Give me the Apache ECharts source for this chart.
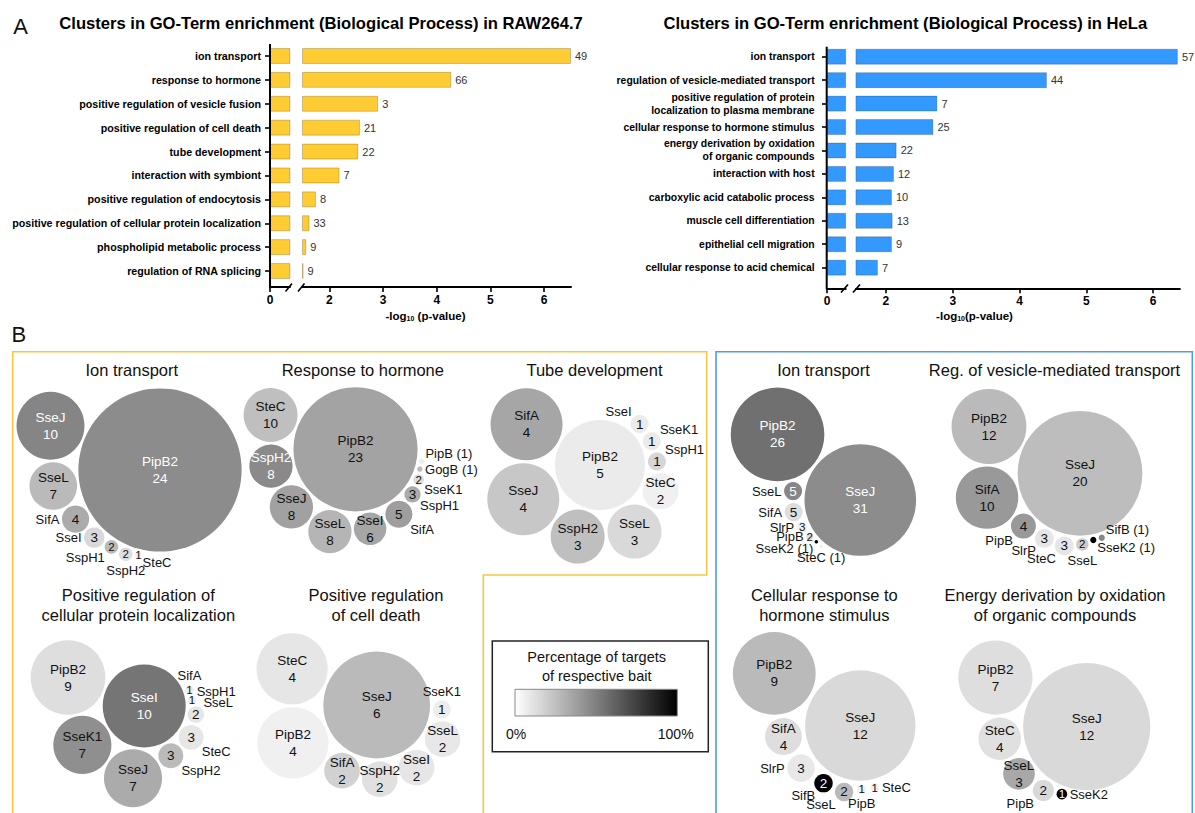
<!DOCTYPE html>
<html>
<head>
<meta charset="utf-8">
<title>GO-Term clusters</title>
<script src="https://cdn.jsdelivr.net/npm/echarts@6/dist/echarts.min.js"></script>
<style>
  html, body { margin: 0; padding: 0; background: #ffffff; }
  #chart { width: 1195px; height: 813px; }
</style>
</head>
<body>
<div id="chart"></div>
<script>
// ---------- Panel A: GO-term enrichment ----------
const rawTerms = [
  'ion transport', 'response to hormone', 'positive regulation of vesicle fusion',
  'positive regulation of cell death', 'tube development', 'interaction with symbiont',
  'positive regulation of endocytosis', 'positive regulation of cellular protein localization',
  'phospholipid metabolic process', 'regulation of RNA splicing'
];
const rawLogP = [6.5, 4.27, 2.91, 2.57, 2.54, 2.19, 1.75, 1.63, 1.57, 1.52];
const rawGenes = [49, 66, 3, 21, 22, 7, 8, 33, 9, 9];

const helaTerms = [
  'ion transport', 'regulation of vesicle-mediated transport',
  'positive regulation of protein\nlocalization to plasma membrane',
  'cellular response to hormone stimulus',
  'energy derivation by oxidation\nof organic compounds',
  'interaction with host', 'carboxylic acid catabolic process',
  'muscle cell differentiation', 'epithelial cell migration', 'cellular response to acid chemical'
];
const helaLogP = [6.37, 4.41, 2.77, 2.71, 2.16, 2.12, 2.09, 2.10, 2.09, 1.88];
const helaGenes = [57, 44, 7, 25, 22, 12, 10, 13, 9, 7];

const lowTicks = [0];
const highTicks = [2, 3, 4, 5, 6];

// ---------- Panel B: bait clusters (targets per bait, % of the bait's targets) ----------
const ionRawBaits = ['PipB2', 'SseJ', 'SseL', 'SifA', 'SseI', 'SspH1', 'SspH2', 'SteC'];
const ionRawCounts = [24, 10, 7, 4, 3, 2, 2, 1];
const ionRawPct = [45, 48, 27, 33, 15, 27, 13, 6];

const hormoneBaits = ['PipB2', 'SteC', 'SspH2', 'SseJ', 'SseL', 'SseI', 'SifA', 'SspH1', 'SseK1', 'GogB', 'PipB'];
const hormoneCounts = [23, 10, 8, 8, 8, 6, 5, 3, 2, 1, 1];
const hormonePct = [36, 25, 46, 37, 29, 35, 38, 33, 13, 27, 7];

const tubeBaits = ['PipB2', 'SifA', 'SseJ', 'SspH2', 'SseL', 'SteC', 'SspH1', 'SseK1', 'SseI'];
const tubeCounts = [5, 4, 4, 3, 3, 2, 1, 1, 1];
const tubePct = [8, 35, 22, 25, 15, 6, 16, 8, 8];

const ionHelaBaits = ['SseJ', 'PipB2', 'SseL', 'SifA', 'SlrP', 'PipB', 'SseK2', 'SteC'];
const ionHelaCounts = [31, 26, 5, 5, 3, 2, 1, 1];
const ionHelaPct = [45, 56, 47, 13, 6, 13, 100, 6];

const vesicleBaits = ['SseJ', 'PipB2', 'SifA', 'PipB', 'SlrP', 'SteC', 'SseL', 'SseK2', 'SifB'];
const vesicleCounts = [20, 12, 10, 4, 3, 3, 2, 1, 1];
const vesiclePct = [26, 27, 40, 40, 10, 10, 20, 100, 47];

const localizationBaits = ['SseI', 'PipB2', 'SseK1', 'SseJ', 'SspH2', 'SteC', 'SseL', 'SspH1', 'SifA'];
const localizationCounts = [10, 9, 7, 7, 3, 3, 2, 1, 1];
const localizationPct = [54, 13, 44, 33, 27, 10, 10, 7, 7];

const deathBaits = ['SseJ', 'SteC', 'PipB2', 'SifA', 'SspH2', 'SseI', 'SseL', 'SseK1'];
const deathCounts = [6, 4, 4, 2, 2, 2, 2, 1];
const deathPct = [27, 10, 6, 18, 12, 10, 9, 7];

const stimulusBaits = ['SseJ', 'PipB2', 'SifA', 'SlrP', 'SifB', 'SseL', 'PipB', 'SteC'];
const stimulusCounts = [12, 9, 4, 3, 2, 2, 1, 1];
const stimulusPct = [15, 27, 13, 9, 100, 27, 6, 6];

const energyBaits = ['SseJ', 'PipB2', 'SteC', 'SseL', 'PipB', 'SseK2'];
const energyCounts = [12, 7, 4, 3, 2, 1];
const energyPct = [15, 13, 12, 34, 15, 100];

const clusterTitles = [
  'Ion transport', 'Response to hormone', 'Tube development',
  'Ion transport', 'Reg. of vesicle-mediated transport',
  'Positive regulation of\ncellular protein localization', 'Positive regulation\nof cell death',
  'Cellular response to\nhormone stimulus', 'Energy derivation by oxidation\nof organic compounds'
];

const clusters = [
  { baits: ionRawBaits, counts: ionRawCounts, pct: ionRawPct },
  { baits: hormoneBaits, counts: hormoneCounts, pct: hormonePct },
  { baits: tubeBaits, counts: tubeCounts, pct: tubePct },
  { baits: ionHelaBaits, counts: ionHelaCounts, pct: ionHelaPct },
  { baits: vesicleBaits, counts: vesicleCounts, pct: vesiclePct },
  { baits: localizationBaits, counts: localizationCounts, pct: localizationPct },
  { baits: deathBaits, counts: deathCounts, pct: deathPct },
  { baits: stimulusBaits, counts: stimulusCounts, pct: stimulusPct },
  { baits: energyBaits, counts: energyCounts, pct: energyPct }
];

// Layout of each cluster: hub centre, radius per target, angle of the first
// satellite, gap between circles, title anchor and label side overrides.
const clusterLayout = [
  { hub: [160, 470], k: 3.4, start: 202, pad: 2.5, titleAt: [131.8, 370], sides: { SifA: 'w', SseI: 'w', SteC: 'se' } },
  { hub: [355.5, 449.3], k: 2.7, start: 202, pad: 2.5, titleAt: [362.8, 370], sides: { PipB: 'ne', SseK1: 'se', SspH1: 'se' } },
  { hub: [600, 465], k: 9, start: 209, pad: 3, titleAt: [594.5, 369.5], sides: { SspH1: 'ne', SseK1: 'ne', SseI: 'nw' } },
  { hub: [860.3, 500], k: 1.8, start: 218.4, pad: 3, titleAt: [823.5, 370], sides: { SlrP: 'w', PipB: 'w', SteC: 's' } },
  { hub: [1080, 473.3], k: 3.12, start: 207.2, pad: 2.5, titleAt: [1054.5, 370], sides: { SteC: 'sw', SseK2: 'se', SifB: 'ne' } },
  { hub: [144.2, 706], k: 4.15, start: 200.5, pad: 2.5, titleAt: [138.3, 605], sides: { SteC: 'se', SseL: 'ne', SspH1: 'ne', SifA: 'n' } },
  { hub: [376.7, 705], k: 8.9, start: 203.2, pad: 3, titleAt: [376, 605], sides: { SseK1: 'n' } },
  { hub: [860.3, 725.5], k: 4.6, start: 211.2, pad: 4, titleAt: [824.3, 605], sides: { SlrP: 'w', SseL: 'sw', PipB: 's', SteC: 'e' } },
  { hub: [1086.7, 726.7], k: 5.3, start: 208.3, pad: 3, titleAt: [1055, 605], sides: { SseK2: 'e' } }
];

const FONT = '"Liberation Sans", Arial, Helvetica, sans-serif';
const INK = '#111111';

// Satellites are chained around the hub: each one touches the hub and the previous satellite.
function packCluster(counts, L) {
  const r = counts.map(c => L.k * c);
  const R = r[0];
  const pos = [[L.hub[0], L.hub[1]]];
  const ang = [0];
  let theta = L.start * Math.PI / 180;
  for (let i = 1; i < counts.length; i++) {
    const d2 = R + r[i] + L.pad;
    if (i > 1) {
      const d1 = R + r[i - 1] + L.pad;
      const d12 = r[i - 1] + r[i] + L.pad;
      const c = (d1 * d1 + d2 * d2 - d12 * d12) / (2 * d1 * d2);
      theta -= Math.acos(Math.max(-1, Math.min(1, c)));
    }
    pos.push([L.hub[0] + d2 * Math.cos(theta), L.hub[1] + d2 * Math.sin(theta)]);
    ang.push(theta);
  }
  return { r, pos, ang };
}

const DIRS = { e: 0, se: 45, s: 90, sw: 135, w: 180, nw: 225, n: 270, ne: 315 };
function nearestDir(theta) {
  const deg = ((theta * 180 / Math.PI) % 360 + 360) % 360;
  let best = 'e', bestD = 999;
  for (const k in DIRS) {
    let d = Math.abs(deg - DIRS[k]);
    d = Math.min(d, 360 - d);
    if (d < bestD) { bestD = d; best = k; }
  }
  return best;
}

// anchor point and alignment of a name written beside a circle
function sideLabel(cx, cy, r, dir) {
  const a = DIRS[dir] * Math.PI / 180;
  const dx = Math.cos(a), dy = Math.sin(a);
  const g = 2.5;
  const diag = dir.length === 2;
  const x = cx + (r + g) * dx;
  let y = cy + (r + g) * dy;
  let verticalAlign = dy < -0.3 ? 'bottom' : (dy > 0.3 ? 'top' : 'middle');
  if (diag) {
    y += dy > 0 ? 4 : -4;
    verticalAlign = 'middle';
  }
  return { x, y, align: dx < -0.3 ? 'right' : (dx > 0.3 ? 'left' : 'center'), verticalAlign };
}

const packed = clusters.map((c, i) => packCluster(c.counts, clusterLayout[i]));

// bubbles, coloured through the visualMap from the percentage dimension
const bubbleSeries = clusters.map((c, i) => {
  const L = clusterLayout[i], P = packed[i];
  return {
    type: 'scatter', xAxisIndex: 4, yAxisIndex: 4, symbol: 'circle', silent: true, z: 3,
    symbolSize: v => 2 * L.k * v[3],
    itemStyle: { opacity: 1 },
    data: c.baits.map((b, j) => {
      const r = P.r[j];
      let text = '', fs = 13.5;
      if (r >= 15) text = b + '\n' + c.counts[j];
      else if (r >= 3.25) { text = String(c.counts[j]); if (r < 7) fs = 11.5; }
      return {
        name: b,
        value: [P.pos[j][0], P.pos[j][1], c.pct[j], c.counts[j]],
        label: {
          show: text !== '', position: 'inside', formatter: text, fontSize: fs, lineHeight: 17,
          fontFamily: FONT, color: c.pct[j] >= 44.5 ? '#ffffff' : INK,
          textBorderWidth: 0, textBorderColor: 'transparent'
        }
      };
    })
  };
});

// names of the small circles, written next to them
const outsideLabels = [];
clusters.forEach((c, i) => {
  const L = clusterLayout[i], P = packed[i];
  c.baits.forEach((b, j) => {
    if (j === 0) return;
    const r = P.r[j];
    if (r >= 15) return;
    const text = r >= 3.25 ? b : b + ' (' + c.counts[j] + ')';
    const dir = L.sides[b] || nearestDir(P.ang[j]);
    const s = sideLabel(P.pos[j][0], P.pos[j][1], r, dir);
    outsideLabels.push({
      value: [s.x, s.y],
      label: { formatter: text, align: s.align, verticalAlign: s.verticalAlign }
    });
  });
});

function segAxis(gi, min, max, ticks, offset) {
  return {
    gridIndex: gi, type: 'value', min, max, offset,
    axisLine: { show: true, onZero: false, lineStyle: { color: '#000', width: 2 } },
    axisTick: { show: true, customValues: ticks, length: 5, lineStyle: { color: '#000', width: 1.6 } },
    axisLabel: { show: true, customValues: ticks, margin: 7, color: '#000', fontWeight: 'bold', fontSize: 12, fontFamily: FONT },
    splitLine: { show: false }
  };
}
function catAxis(gi, terms, shown, margin, fs) {
  return {
    gridIndex: gi, type: 'category', data: terms, inverse: true,
    axisLine: { show: false },
    axisTick: { show: shown, alignWithLabel: true, length: 5, lineStyle: { color: '#000', width: 1.6 } },
    axisLabel: { show: shown, margin: margin || 8, color: '#000', fontWeight: 'bold', fontSize: fs || 10.5, lineHeight: 13, fontFamily: FONT },
    splitLine: { show: false }
  };
}
function barSeries(idx, values, color, genes) {
  return {
    type: 'bar', xAxisIndex: idx, yAxisIndex: idx, data: values, barWidth: 16, clip: true, silent: true,
    itemStyle: { color, borderColor: 'rgba(0,0,0,0.2)', borderWidth: 1 },
    label: genes ? {
      show: true, position: 'right', distance: 4, color: '#333', fontSize: 11, fontFamily: FONT,
      formatter: p => String(genes[p.dataIndex])
    } : { show: false }
  };
}

function txt(x, y, text, size, extra) {
  return {
    type: 'text', x, y, silent: true, z: 10,
    style: Object.assign({ text, fontSize: size, fontFamily: FONT, fill: INK, align: 'center', verticalAlign: 'middle' }, extra || {})
  };
}
function seg(x1, y1, x2, y2, color, w) {
  return { type: 'line', silent: true, z: 10, shape: { x1, y1, x2, y2 }, style: { stroke: color, lineWidth: w } };
}

const YELLOW = '#F7C744';
const BLUE = '#4F9BE6';
const logRich = {
  a: { fontSize: 11.5, fontWeight: 'bold', fontFamily: FONT, fill: '#000', color: '#000' },
  s: { fontSize: 7, fontWeight: 'bold', fontFamily: FONT, fill: '#000', color: '#000', verticalAlign: 'bottom', padding: [5, 0, 0, 0] }
};

const graphics = [
  txt(20.5, 26.5, 'A', 22, { fill: '#111' }),
  txt(18.8, 334, 'B', 22, { fill: '#111' }),
  txt(321, 23.5, 'Clusters in GO-Term enrichment (Biological Process) in RAW264.7', 16.6, { fontWeight: 'bold', fill: '#000' }),
  txt(905.3, 23.5, 'Clusters in GO-Term enrichment (Biological Process) in HeLa', 16.6, { fontWeight: 'bold', fill: '#000' }),
  txt(425.5, 316, '{a|-log}{s|10}{a| (p-value)}', 11.5, { rich: logRich }),
  txt(974.5, 316, '{a|-log}{s|10}{a|(p-value)}', 11.5, { rich: logRich }),
  // y axis lines reaching down to the offset x axes
  seg(270, 44, 270, 288.3, '#000', 2),
  seg(826.7, 46.7, 826.7, 289.3, '#000', 2),
  // axis break marks
  seg(285.5, 291.5, 292, 283.5, '#000', 1.6),
  seg(298, 291.5, 304.5, 283.5, '#000', 1.6),
  seg(841, 292.5, 848, 284.5, '#000', 1.6),
  seg(853, 292.5, 860, 284.5, '#000', 1.6),
  // cluster frames
  { type: 'polyline', silent: true, z: 1, shape: { points: [[483.3, 815], [483.3, 575], [706.7, 575], [706.7, 351.7], [12.7, 351.7], [12.7, 815]] }, style: { stroke: YELLOW, lineWidth: 1.6, fill: null } },
  { type: 'polyline', silent: true, z: 1, shape: { points: [[716, 815], [716, 351.7], [1192.3, 351.7], [1192.3, 815]] }, style: { stroke: BLUE, lineWidth: 1.6, fill: null } },
  // colour scale legend
  { type: 'rect', silent: true, z: 5, shape: { x: 492.3, y: 641, width: 216, height: 110.7 }, style: { fill: '#fff', stroke: '#222', lineWidth: 1.5 } },
  txt(596.7, 657.3, 'Percentage of targets', 14.5),
  txt(596.7, 676, 'of respective bait', 14.5),
  { type: 'rect', silent: true, z: 6, shape: { x: 515, y: 689.3, width: 162.3, height: 26.7 },
    style: { stroke: '#888', lineWidth: 1, fill: new echarts.graphic.LinearGradient(0, 0, 1, 0, [{ offset: 0, color: '#ffffff' }, { offset: 1, color: '#000000' }]) } },
  txt(516, 734, '0%', 14),
  txt(675.7, 734, '100%', 14)
];
clusterTitles.forEach((t, i) => {
  const at = clusterLayout[i].titleAt;
  graphics.push(txt(at[0], at[1], t, 16.5, { lineHeight: 20 }));
});

const option = {
  animation: false,
  backgroundColor: '#ffffff',
  textStyle: { fontFamily: FONT },
  grid: [
    { left: 270, top: 44, width: 20, height: 239, outerBoundsMode: 'none' },
    { left: 302.5, top: 44, width: 268.5, height: 239, outerBoundsMode: 'none' },
    { left: 827, top: 45, width: 18.7, height: 234.4, outerBoundsMode: 'none' },
    { left: 855.9, top: 45, width: 324, height: 234.4, outerBoundsMode: 'none' },
    { left: 0, top: 0, width: 1195, height: 813, outerBoundsMode: 'none' }
  ],
  xAxis: [
    segAxis(0, 0, 0.37, lowTicks, 4),
    segAxis(1, 1.5, 6.5, highTicks, 4),
    segAxis(2, 0, 0.28, lowTicks, 8.9),
    segAxis(3, 1.55, 6.4, highTicks, 8.9),
    { gridIndex: 4, type: 'value', min: 0, max: 1195, show: false }
  ],
  yAxis: [
    catAxis(0, rawTerms, true, 9, 10.7),
    catAxis(1, rawTerms, false),
    catAxis(2, helaTerms, true, 12.4, 10.4),
    catAxis(3, helaTerms, false),
    { gridIndex: 4, type: 'value', min: 0, max: 813, inverse: true, show: false }
  ],
  visualMap: {
    type: 'continuous', show: false, min: 0, max: 100, dimension: 2,
    seriesIndex: bubbleSeries.map((s, i) => 4 + i),
    inRange: { color: ['#ffffff', '#000000'] }
  },
  series: [
    barSeries(0, rawLogP, '#FFCC33'),
    barSeries(1, rawLogP, '#FFCC33', rawGenes),
    barSeries(2, helaLogP, '#3399FF'),
    barSeries(3, helaLogP, '#3399FF', helaGenes)
  ].concat(bubbleSeries).concat([{
    type: 'scatter', xAxisIndex: 4, yAxisIndex: 4, silent: true, z: 4,
    symbolSize: 1, itemStyle: { color: 'rgba(0,0,0,0)', opacity: 1 },
    label: {
      show: true, position: 'inside', fontSize: 13, lineHeight: 14, fontFamily: FONT, color: INK,
      textBorderWidth: 0, textBorderColor: 'transparent'
    },
    data: outsideLabels
  }]),
  graphic: graphics
};

const chart = echarts.init(document.getElementById('chart'), null, { renderer: 'svg' });
chart.setOption(option);
</script>
</body>
</html>
